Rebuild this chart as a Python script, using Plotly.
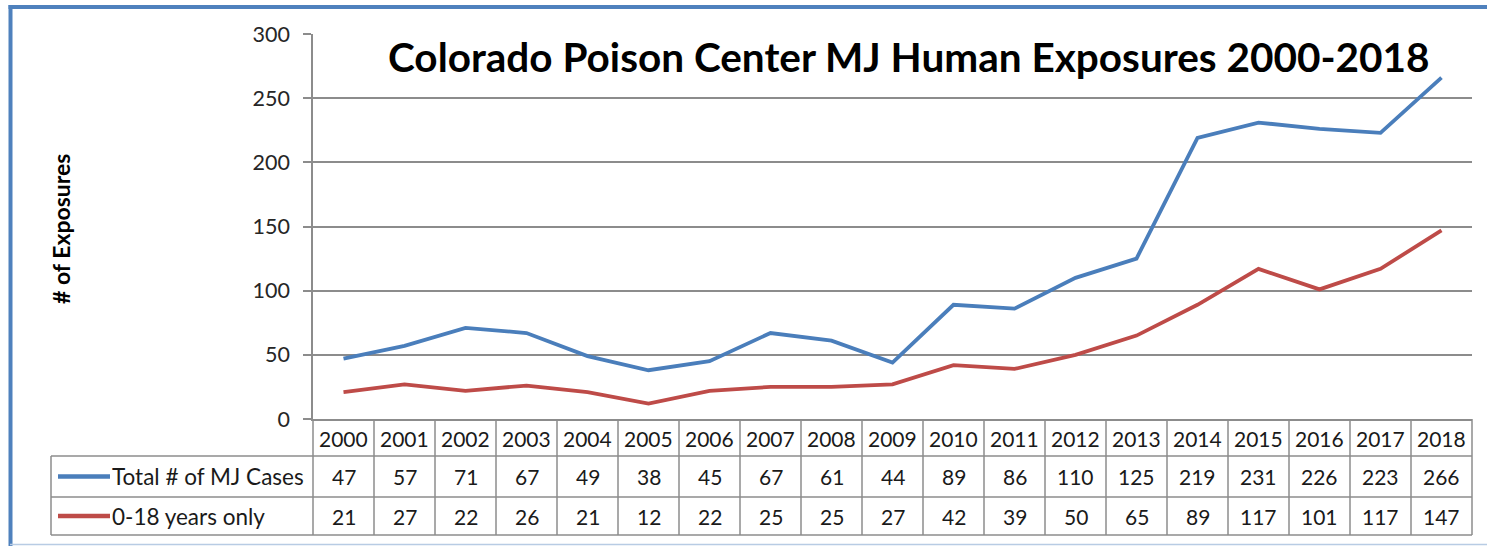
import plotly.graph_objects as go

years = [str(y) for y in range(2000, 2019)]
total_cases = [47, 57, 71, 67, 49, 38, 45, 67, 61, 44, 89, 86, 110, 125, 219, 231, 226, 223, 266]
youth_cases = [21, 27, 22, 26, 21, 12, 22, 25, 25, 27, 42, 39, 50, 65, 89, 117, 101, 117, 147]
series_names = ["Total # of MJ Cases", "0-18 years only"]
series_colors = ["#4A7EBB", "#BE4B48"]
y_ticks = [0, 50, 100, 150, 200, 250, 300]
title_text = "Colorado Poison Center MJ Human Exposures 2000-2018"
ytitle_text = "# of Exposures"

W, H = 1487, 546
L, R, T, B = 313, 1472, 34, 419  # plot area pixel box
FONT = "Lato, Carlito, Calibri, sans-serif"
GRID = "#8C8C8C"
TXT = "#1a1a1a"

def px(x):
    return (x - L) / (R - L)

def py(y):
    return (B - y) / (B - T)

xs = list(range(len(years)))
fig = go.Figure()
for vals, name, col in zip([total_cases, youth_cases], series_names, series_colors):
    fig.add_trace(go.Scatter(x=xs, y=vals, mode="lines", name=name,
                             line=dict(color=col, width=3.8), showlegend=False,
                             cliponaxis=False))

shapes = []
ann = []
row_lines = [456, 497, 535]
table_left = 51
ncol = len(years)
colw = (R - L) / ncol
for ry in row_lines:
    shapes.append(dict(type="line", xref="paper", yref="paper", x0=px(table_left), x1=px(R),
                       y0=py(ry), y1=py(ry), line=dict(color=GRID, width=1.5)))
for k in range(ncol + 1):
    xx = L + k * colw
    shapes.append(dict(type="line", xref="paper", yref="paper", x0=px(xx), x1=px(xx),
                       y0=py(B), y1=py(535), line=dict(color=GRID, width=1.5)))
shapes.append(dict(type="line", xref="paper", yref="paper", x0=px(table_left), x1=px(table_left),
                   y0=py(456), y1=py(535), line=dict(color=GRID, width=1.5)))
# outer frame
shapes.append(dict(type="line", xref="paper", yref="paper", x0=px(8.5), x1=px(1495),
                   y0=py(7), y1=py(7), line=dict(color="#4F81BD", width=4)))
shapes.append(dict(type="line", xref="paper", yref="paper", x0=px(10.5), x1=px(10.5),
                   y0=py(5), y1=py(546), line=dict(color="#4F81BD", width=4)))
shapes.append(dict(type="line", xref="paper", yref="paper", x0=px(10), x1=px(1495),
                   y0=py(544.5), y1=py(544.5), line=dict(color="#B8CCE4", width=1.5)))

rows_c = [(B + 456) / 2 + 1, (456 + 497) / 2, (497 + 535) / 2]
for i, yr in enumerate(years):
    ann.append(dict(x=i, y=py(rows_c[0]), xref="x", yref="paper", text=yr, showarrow=False,
                    font=dict(family=FONT, size=21, color=TXT), xanchor="center", yanchor="middle"))
for r, vals in enumerate([total_cases, youth_cases]):
    for i, v in enumerate(vals):
        ann.append(dict(x=i, y=py(rows_c[r + 1]), xref="x", yref="paper", text=str(v), showarrow=False,
                        font=dict(family=FONT, size=21, color=TXT), xanchor="center", yanchor="middle"))
    ann.append(dict(x=px(110), y=py(rows_c[r + 1]), xref="paper", yref="paper", text=series_names[r],
                    showarrow=False, font=dict(family=FONT, size=22.5, color=TXT),
                    xanchor="left", yanchor="middle"))
    shapes.append(dict(type="line", xref="paper", yref="paper", x0=px(58), x1=px(110),
                       y0=py(rows_c[r + 1]), y1=py(rows_c[r + 1]),
                       line=dict(color=series_colors[r], width=4.5)))

ann.append(dict(x=px(909), y=py(56), xref="paper", yref="paper", text="<b>" + title_text + "</b>",
                showarrow=False, font=dict(family=FONT, size=40.5, color="#000000"),
                xanchor="center", yanchor="middle"))
ann.append(dict(x=px(61), y=py(229), xref="paper", yref="paper", text="<b>" + ytitle_text + "</b>",
                showarrow=False, textangle=-90, font=dict(family=FONT, size=23, color="#000000"),
                xanchor="center", yanchor="middle"))

fig.update_layout(
    width=W, height=H,
    margin=dict(l=L, r=W - R, t=T, b=H - B),
    paper_bgcolor="white", plot_bgcolor="white",
    shapes=shapes, annotations=ann,
    xaxis=dict(range=[-0.5, ncol - 0.5], showticklabels=False, showgrid=False, zeroline=False,
               showline=True, linecolor=GRID, linewidth=1.5, ticks=""),
    yaxis=dict(range=[0, 300], tickvals=y_ticks, showgrid=True, gridcolor=GRID, gridwidth=1.5,
               zeroline=False, showline=True, linecolor=GRID, linewidth=1.5,
               ticks="outside", ticklen=8, tickcolor=GRID, tickwidth=1.5,
               tickfont=dict(family=FONT, size=21.5, color="#262626"), ticklabelstandoff=9),
)
fig.write_html("out.html", config={"displayModeBar": False},
               post_script="document.body.style.margin='0';document.body.style.overflow='hidden';")
